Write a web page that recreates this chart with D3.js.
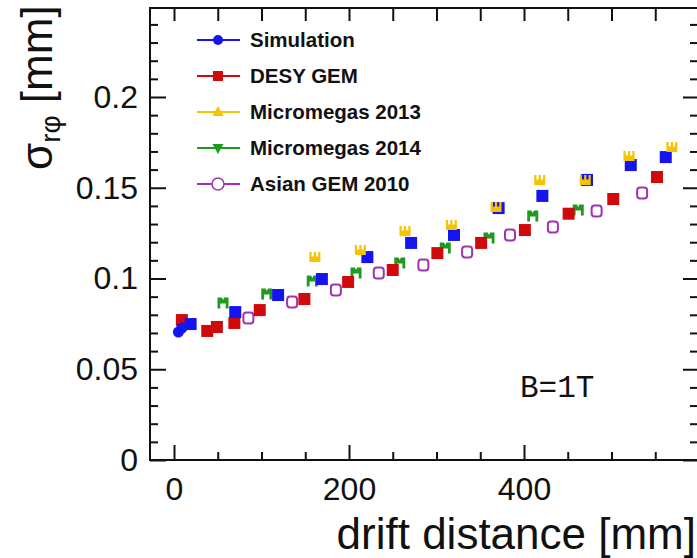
<!DOCTYPE html>
<html lang="en">
<head>
<meta charset="UTF-8">
<title>sigma r-phi vs drift distance</title>
<script src="https://d3js.org/d3.v7.min.js"></script>
<style>
  body { margin: 0; background: #fff; }
  text { font-family: "Liberation Sans", Arial, Helvetica, sans-serif; fill: #111; }
  .tick line { stroke: #111; stroke-width: 2; }
</style>
</head>
<body>
<script>
// data (drift distance in mm, sigma in mm)
var simX = [5, 9, 19, 70, 119, 169, 221, 271, 320, 371, 421, 472, 522, 562];
var simY = [0.0705, 0.0727, 0.0749, 0.0815, 0.0909, 0.0997, 0.1118, 0.1196, 0.124, 0.1388, 0.1455, 0.1543, 0.1625, 0.1669];

var desyX = [9, 38, 49, 69, 98, 149, 199, 250, 301, 351, 401, 451, 502, 552];
var desyY = [0.0771, 0.0711, 0.0733, 0.0755, 0.0826, 0.0887, 0.0981, 0.1047, 0.114, 0.1196, 0.1267, 0.1357, 0.1438, 0.1559];

var mm13X = [161, 213, 264, 317, 368, 418, 470, 520, 569];
var mm13Y = [0.1118, 0.1157, 0.1262, 0.1295, 0.1394, 0.1543, 0.1543, 0.1675, 0.1725];

var mm14X = [56, 106, 158, 208, 258, 310, 360, 410, 462];
var mm14Y = [0.0865, 0.0915, 0.0986, 0.103, 0.1085, 0.1168, 0.1223, 0.1344, 0.1377];

var asianX = [85, 135, 185, 234, 285, 335, 384, 433, 483, 535];
var asianY = [0.0782, 0.0871, 0.0937, 0.103, 0.1074, 0.1146, 0.124, 0.1284, 0.1372, 0.1471];

var seriesNames = ["Simulation", "DESY GEM", "Micromegas 2013", "Micromegas 2014", "Asian GEM 2010"];
var yTickValues = [0, 0.05, 0.1, 0.15, 0.2];
var xTickValues = [0, 200, 400];

var colors = ["#1414f0", "#d00a0a", "#f5c400", "#1e9a1e", "#a032b4"];

var svg = d3.select("body").append("svg").attr("width", 697).attr("height", 558);

var x = d3.scaleLinear().domain([0, 400]).range([174, 524]);
var y = d3.scaleLinear().domain([0, 0.2]).range([460, 97]);

// frame
svg.append("rect").attr("x", 150).attr("y", 8).attr("width", 548).attr("height", 452)
  .attr("fill", "none").attr("stroke", "#111").attr("stroke-width", 2);

// y axis (left) major + minor
var yMinor = d3.range(0, 0.25, 0.01).map(function (d) { return +d.toFixed(2); })
  .filter(function (d) { return yTickValues.indexOf(d) < 0; });

svg.append("g").attr("transform", "translate(150,0)")
  .call(d3.axisLeft(y).tickValues(yTickValues).tickSize(-16).tickPadding(12)
    .tickFormat(function (d) { return String(d); }))
  .call(function (g) { g.select(".domain").remove(); })
  .selectAll("text").style("font-size", "32px").style("font-family", "'Liberation Sans', Arial, sans-serif").attr("fill", "#111");
svg.append("g").attr("transform", "translate(150,0)")
  .call(d3.axisLeft(y).tickValues(yMinor).tickSize(-8).tickFormat(""))
  .call(function (g) { g.select(".domain").remove(); });

// y axis (right)
svg.append("g").attr("transform", "translate(698,0)")
  .call(d3.axisRight(y).tickValues(yTickValues).tickSize(-15).tickFormat(""))
  .call(function (g) { g.select(".domain").remove(); });
svg.append("g").attr("transform", "translate(698,0)")
  .call(d3.axisRight(y).tickValues(yMinor).tickSize(-8).tickFormat(""))
  .call(function (g) { g.select(".domain").remove(); });

// x axis (bottom)
var xMinor = d3.range(0, 650, 50).filter(function (d) { return xTickValues.indexOf(d) < 0; });
svg.append("g").attr("transform", "translate(0,460)")
  .call(d3.axisBottom(x).tickValues(xTickValues).tickSize(-15).tickPadding(17))
  .call(function (g) { g.select(".domain").remove(); })
  .selectAll("text").style("font-size", "32px").style("font-family", "'Liberation Sans', Arial, sans-serif").attr("fill", "#111");
svg.append("g").attr("transform", "translate(0,460)")
  .call(d3.axisBottom(x).tickValues(xMinor).tickSize(-8).tickFormat(""))
  .call(function (g) { g.select(".domain").remove(); });

// x axis (top)
svg.append("g").attr("transform", "translate(0,8)")
  .call(d3.axisTop(x).tickValues(d3.range(0, 650, 50)).tickSize(-13).tickFormat(""))
  .call(function (g) { g.select(".domain").remove(); });

// axis titles
svg.append("text").attr("x", 696).attr("y", 549).attr("text-anchor", "end")
  .style("font-size", "44px").text("drift distance [mm]");

var yt = svg.append("text").attr("transform", "translate(52,170) rotate(-90)")
  .style("font-size", "44px");
yt.append("tspan").text("σ");
yt.append("tspan").attr("dy", 8).style("font-size", "28px").text("rφ");
yt.append("tspan").attr("dy", -8).text(" [mm]");

// markers
function square(g, cx, cy, c) {
  g.append("rect").attr("x", cx - 6).attr("y", cy - 6).attr("width", 12).attr("height", 12).attr("fill", c);
}
function crown(g, cx, cy, c) {
  g.append("path").attr("transform", "translate(" + cx + "," + cy + ")")
    .attr("d", "M-5.5,5L-5.5,-5L-3.3,-5L-3.3,-0.5L-1.1,-0.5L-1.1,-5L1.1,-5L1.1,-0.5L3.3,-0.5L3.3,-5L5.5,-5L5.5,5Z")
    .attr("fill", c);
}
function emm(g, cx, cy, c) {
  g.append("path").attr("transform", "translate(" + cx + "," + cy + ")")
    .attr("d", "M-5.5,-5.5L-1.2,-5.5L0,-3L1.2,-5.5L5.5,-5.5L5.5,5.5L2.7,5.5L2.7,0.5L-2.7,0.5L-2.7,5.5L-5.5,5.5Z")
    .attr("fill", c);
}
function ring(g, cx, cy, c) {
  g.append("rect").attr("x", cx - 5).attr("y", cy - 5.5).attr("width", 10).attr("height", 11).attr("rx", 3)
    .attr("fill", "none").attr("stroke", c).attr("stroke-width", 2);
}

var pts = svg.append("g");
asianX.forEach(function (d, i) { ring(pts, x(d), y(asianY[i]), colors[4]); });
mm14X.forEach(function (d, i) { emm(pts, x(d), y(mm14Y[i]), colors[3]); });
desyX.forEach(function (d, i) { square(pts, x(d), y(desyY[i]), colors[1]); });
simX.forEach(function (d, i) {
  if (i < 2) pts.append("circle").attr("cx", x(d)).attr("cy", y(simY[i])).attr("r", 5.5).attr("fill", colors[0]);
  else square(pts, x(d), y(simY[i]), colors[0]);
});
mm13X.forEach(function (d, i) { crown(pts, x(d), y(mm13Y[i]), colors[2]); });

// legend
var leg = svg.append("g");
seriesNames.forEach(function (name, i) {
  var ly = 40 + i * 36;
  var c = colors[i];
  leg.append("line").attr("x1", 197).attr("x2", 240).attr("y1", ly).attr("y2", ly)
    .attr("stroke", c).attr("stroke-width", 2);
  if (i === 0) leg.append("circle").attr("cx", 218).attr("cy", ly).attr("r", 5).attr("fill", c);
  if (i === 1) leg.append("rect").attr("x", 213).attr("y", ly - 5).attr("width", 10).attr("height", 10).attr("fill", c);
  if (i === 2) leg.append("path").attr("transform", "translate(218," + ly + ")").attr("d", "M0,-6L5.5,4L-5.5,4Z").attr("fill", c);
  if (i === 3) leg.append("path").attr("transform", "translate(218," + ly + ")").attr("d", "M0,6L5.5,-4L-5.5,-4Z").attr("fill", c);
  if (i === 4) leg.append("circle").attr("cx", 218).attr("cy", ly).attr("r", 6).attr("fill", "#fff")
    .attr("stroke", c).attr("stroke-width", 1.5);
  leg.append("text").attr("x", 250).attr("y", ly + 7).style("font-size", "20.5px").style("font-weight", "bold")
    .text(name);
});

// field label
svg.append("text").attr("x", 520).attr("y", 397)
  .style("font-family", "'Liberation Mono', 'DejaVu Sans Mono', monospace").style("font-size", "31px")
  .text("B=1T");
</script>
</body>
</html>
